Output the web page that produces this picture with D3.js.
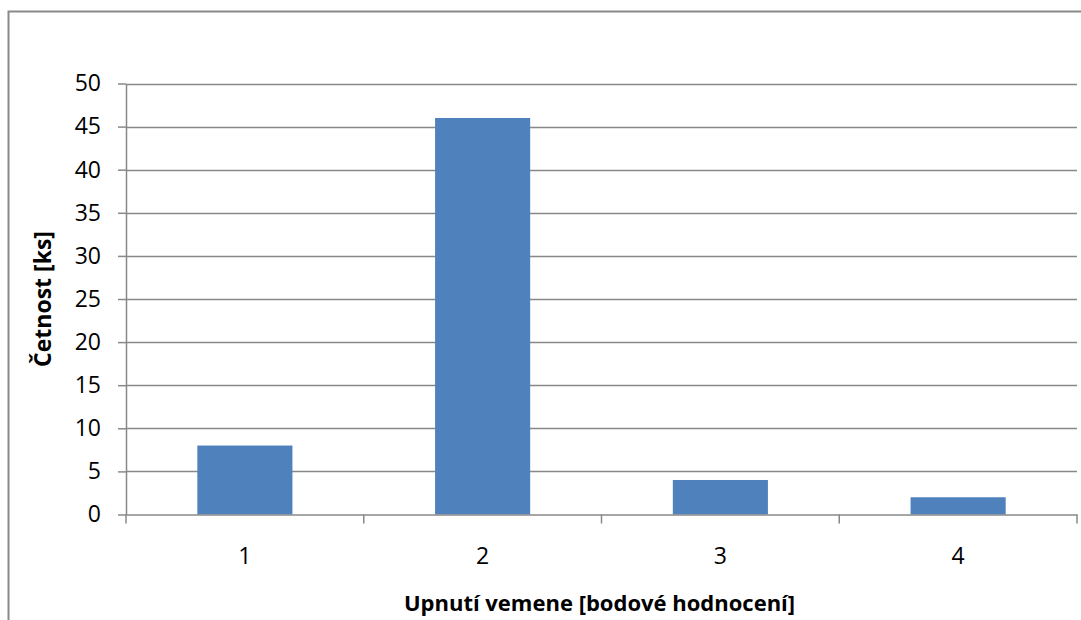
<!DOCTYPE html>
<html><head><meta charset="utf-8">
<script src="https://cdn.jsdelivr.net/npm/d3@7"></script>
<style>
html,body{margin:0;padding:0;background:#fff;}
svg{display:block;}
text{font-family:"Open Sans","Liberation Sans",sans-serif;}
</style></head>
<body>
<script>
const categories = ["1","2","3","4"];
const values = [8,46,4,2];
const yTicks = [0,5,10,15,20,25,30,35,40,45,50];
const xTitle = "Upnutí vemene [bodové hodnocení]";
const yTitle = "Četnost [ks]";

const W=1081,H=620;
const svg=d3.select("body").append("svg").attr("width",W).attr("height",H);
// frame
svg.append("rect").attr("x",8.5).attr("y",11.5).attr("width",1100).attr("height",700)
  .attr("fill","none").attr("stroke","#898989").attr("stroke-width",2);

const L=126,R=1077,T=83.5,B=514.5;
const x=d3.scaleBand().domain(categories).range([L,R]).paddingInner(0.6).paddingOuter(0.3);
const xb=d3.scaleBand().domain(categories).range([L,R]);
const y=d3.scaleLinear().domain([0,50]).range([B,T]);

const grid="#888888";
const FF="Open Sans, Liberation Sans, sans-serif";
// gridlines
svg.append("g").selectAll("line").data(yTicks.filter(d=>d>0)).join("line")
  .attr("x1",L).attr("x2",R).attr("y1",d=>Math.round(y(d))+0.5).attr("y2",d=>Math.round(y(d))+0.5)
  .attr("stroke",grid).attr("stroke-width",1.5);

// bars
svg.append("g").selectAll("rect").data(values).join("rect")
  .attr("x",(d,i)=>x(categories[i])).attr("width",x.bandwidth())
  .attr("y",d=>y(d)).attr("height",d=>B-y(d)).attr("fill","#4F81BD");

// y axis
const ya=svg.append("g").attr("transform",`translate(${L},0)`)
  .call(d3.axisLeft(y).tickValues(yTicks).tickSize(8).tickPadding(17).tickSizeOuter(0));
ya.select(".domain").attr("stroke",grid).attr("stroke-width",1.5);
ya.selectAll(".tick line").attr("stroke",grid).attr("stroke-width",1.5);
ya.selectAll(".tick text").attr("font-size",23).attr("fill","#000").attr("font-family",FF);

// x axis
const xa=svg.append("g").attr("transform",`translate(0,${B})`)
  .call(d3.axisBottom(xb).tickSize(0).tickPadding(33).tickSizeOuter(0));
xa.select(".domain").attr("stroke",grid).attr("stroke-width",1.5);
xa.selectAll(".tick text").attr("font-size",23).attr("fill","#000").attr("font-family",FF);
// boundary ticks
const bounds=categories.map(c=>xb(c)).concat([R]);
svg.append("g").selectAll("line").data(bounds).join("line")
  .attr("x1",d=>d).attr("x2",d=>d).attr("y1",B).attr("y2",B+9)
  .attr("stroke",grid).attr("stroke-width",1.5);

// titles
svg.append("text").attr("x",(L+R)/2 - 2).attr("y",611).attr("text-anchor","middle")
  .attr("font-size",22).attr("font-weight","bold").text(xTitle);
svg.append("text").attr("transform",`translate(51,${(T+B)/2}) rotate(-90)`).attr("text-anchor","middle")
  .attr("font-size",23).attr("font-weight","bold").text(yTitle);
</script>
</body></html>
